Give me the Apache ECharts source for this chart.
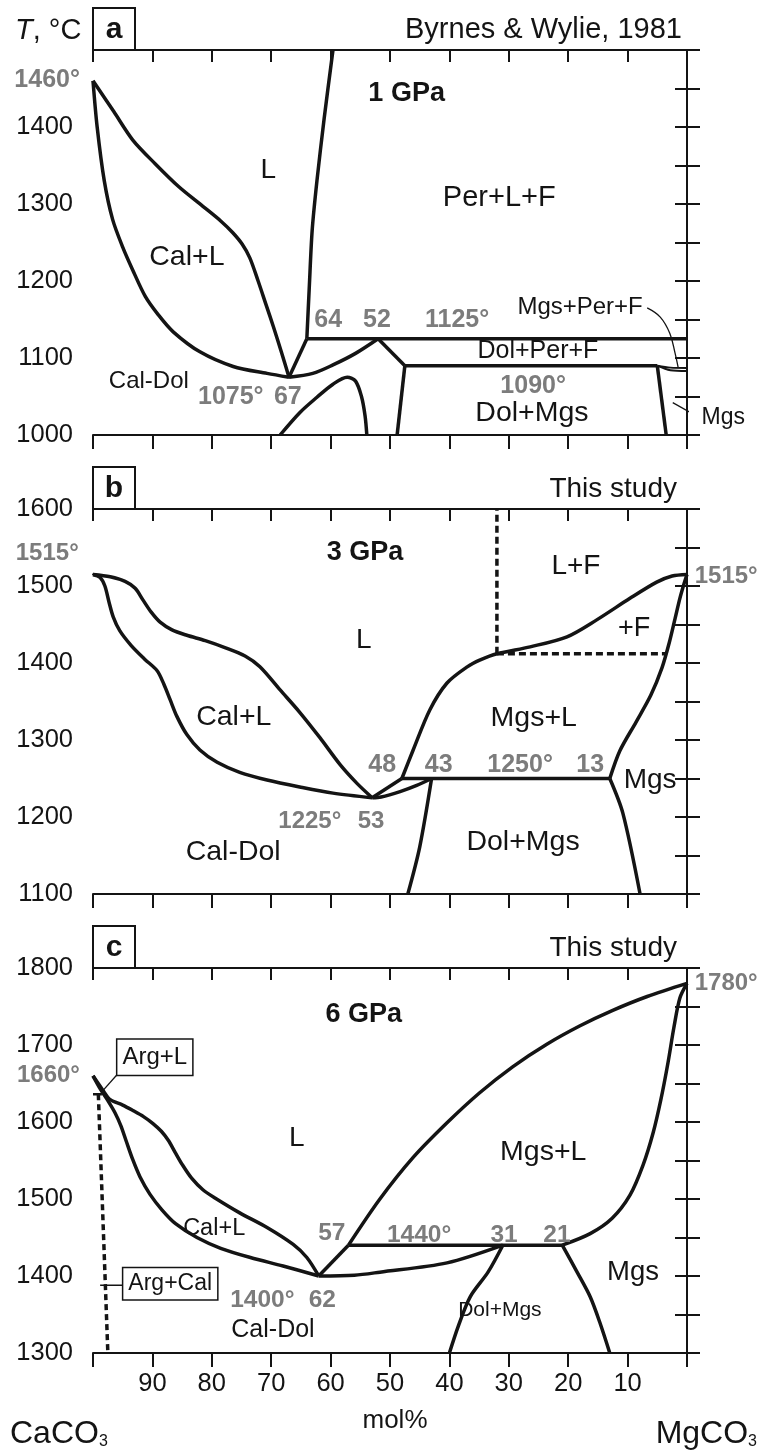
<!DOCTYPE html>
<html>
<head>
<meta charset="utf-8">
<script src="https://cdn.jsdelivr.net/npm/echarts@6/dist/echarts.min.js"></script>
<style>
  html, body { margin: 0; padding: 0; background: #fff; }
  #chart { width: 761px; height: 1456px; }
</style>
</head>
<body>
<div id="chart"></div>
<script>
// Composition axis: mol% CaCO3 (100 = CaCO3 at left, 0 = MgCO3 at right); T in °C.
const molTickLabels = [90, 80, 70, 60, 50, 40, 30, 20, 10];
const tRanges = [[1000, 1500], [1100, 1600], [1300, 1800]];

// ---------- (a) 1 GPa ----------
const aCalLiquidus = [[100,1460],[96.5,1420],[93.3,1383],[89.5,1352],[85.5,1322],[81.5,1297],[78.5,1278],[76.5,1263],[74.9,1248],[73.6,1230],[72.2,1200],[70.9,1170],[69.6,1140],[68.3,1108],[67,1075]];
const aCalSolidus = [[100,1460],[99.3,1400],[98.1,1330],[96.7,1280],[95,1244],[93.3,1214],[91.2,1180],[89,1156],[86.5,1134],[82,1108],[76.4,1089],[70.7,1080],[67,1075]];
const aEutToPeritectic = [[67,1075],[63,1080],[59.6,1091],[55.8,1106],[52,1125]];
const aPeritecticDown = [[52,1125],[47.5,1090]];
const aLiq64 = [[64,1125],[63.6,1190],[63.1,1266],[62.3,1330],[61.1,1410],[59.6,1500]];
const a64to67 = [[64,1125],[67,1075]];
const aIso1125 = [[64,1125],[0,1125]];
const aIso1090 = [[47.5,1090],[5,1090]];
const aDolSide = [[47.5,1090],[48.8,1000]];
const aMgsSide = [[5,1090],[3.5,1000]];
const aPerUpper = [[5,1090],[2.8,1087.5],[0,1087]];
const aPerLower = [[5,1090],[2.8,1084],[0,1083]];
const aCalDolDome = [[68.5,1000],[65.2,1029],[62.3,1049],[59.6,1066],[57.2,1075],[55.8,1070],[54.8,1050],[54.2,1025],[53.9,1000]];
const aLeaderMgsPerF = [[6.7,1165],[4.5,1153],[2.9,1132],[2,1106],[1.5,1088]];
const aLeaderMgs = [[2.4,1042],[-2.2,1022]];

// ---------- (b) 3 GPa ----------
const bCalLiquidus = [[100,1515],[97.1,1512],[94.6,1506],[92.9,1497],[91.6,1482],[90.2,1466],[88.7,1453],[86.7,1443],[84.2,1436],[81.1,1429],[77.8,1420],[74.4,1409],[71.9,1395],[68.5,1365],[65.2,1336],[61.8,1303],[58.4,1268],[55.6,1244],[53,1225]];
const bCalSolidus = [[100,1515],[98.8,1511],[98,1500],[97.3,1479],[96.6,1460],[95.5,1442],[93.6,1423],[91.3,1405],[89.2,1390],[88.1,1373],[87,1352],[85.9,1331],[84.2,1307],[82,1287],[79.1,1271],[75.3,1258],[70.7,1248],[65.2,1239],[59.6,1231],[53,1225]];
const bEutTo43 = [[53,1225],[51.5,1226],[48.3,1233],[45.5,1241],[43,1250]];
const bEutTo48 = [[53,1225],[48,1250]];
const bIso1250 = [[48,1250],[13,1250]];
const bMgsLiquidus = [[48,1250],[46.1,1287],[43.3,1339],[40.4,1374],[37,1395],[34.8,1404],[32,1412],[26.4,1421],[20.2,1434],[15.2,1456],[9.6,1484],[5.1,1505],[2.5,1513],[0,1515]];
const bMgsSolidus = [[13,1250],[11.3,1286],[8.6,1323],[6.1,1358],[4.2,1394],[3,1426],[2,1458],[1.2,1484],[0.5,1503],[0,1515]];
const bDolLeft = [[43,1250],[45,1161],[47,1100]];
const bDolRight = [[13,1250],[10.8,1205],[7.9,1100]];
const bFluidV = [[32,1412],[32,1600]];
const bFluidH = [[32,1412],[3.5,1412]];
const bLeader1515 = [[102.4,1540],[101.7,1527],[100.8,1518],[100,1515]];

// ---------- (c) 6 GPa ----------
const cMgsLiquidus = [[57,1440],[51.7,1500],[46.1,1554],[40.4,1599],[34.9,1638],[29.3,1672],[23.6,1701],[18,1725],[12.5,1745],[6.7,1763],[0,1780]];
const cMgsSolidus = [[21,1440],[16.3,1455],[12.6,1475],[9.6,1505],[7.4,1544],[5.7,1586],[4.4,1629],[3.2,1677],[2.2,1723],[1.2,1761],[0,1780]];
const cIso1440 = [[57,1440],[21,1440]];
const cCalLiquidus = [[100,1660],[98.4,1642],[97.1,1629],[95,1622],[93.3,1615],[91.5,1607],[89.9,1598],[88.5,1588],[87.3,1576],[86.2,1561],[85,1545],[83.4,1527],[81.5,1512],[79.4,1501],[75.3,1482],[70.7,1463],[66.3,1441],[64,1424],[62,1400]];
const cCalSolidus = [[100,1660],[98.7,1642],[97.6,1629],[96.3,1612],[95.3,1595],[94.4,1575],[93.3,1551],[92.1,1529],[90.4,1506],[88.4,1486],[86.1,1468],[82.5,1450],[78.5,1436],[73.5,1424],[68,1413],[62,1400]];
const cEutTo57 = [[62,1400],[57,1440]];
const cEutTo31 = [[62,1400],[56,1401],[51.7,1405],[40.4,1417],[31,1440]];
const cDolLeft = [[31,1440],[33.5,1405],[36.5,1373],[38.5,1335],[40,1300]];
const cDolRight = [[21,1440],[18.5,1405],[16.3,1373],[14.6,1338],[13,1300]];
const cArgCalTop = [[100,1636],[98.5,1636]];
const cArgCalDash = [[99.1,1636],[97.5,1300]];
const cLeaderArgL = [[96,1661],[98.3,1641]];
const cLeaderArgCal = [[98.8,1388],[95,1388]];

// Text annotations: [mol%, T, text, kind, font size]
const aLabels = [
  [47.2,1443,'1 GPa','gpa',27], [70.5,1344,'L','phase',28], [31.6,1308,'Per+L+F','phase',29],
  [84.2,1231,'Cal+L','phase',28.5], [90.6,1069,'Cal-Dol','phase',24],
  [76.8,1049,'1075°','num',25], [67.2,1049,'67','num',25], [60.4,1149,'64','num',25], [52.2,1149,'52','num',25],
  [38.7,1149,'1125°','num',25], [18,1166,'Mgs+Per+F','phase',24], [25.1,1109,'Dol+Per+F','phase',25],
  [25.9,1064,'1090°','num',25], [26.1,1029,'Dol+Mgs','phase',28.5], [-6.1,1022,'Mgs','phase',23],
  [102.2,1461,'1460°','numR',25]
];
const bLabels = [
  [54.2,1543,'3 GPa','gpa',27], [18.7,1525,'L+F','phase',28], [8.9,1445,'+F','phase',27], [54.4,1430,'L','phase',28],
  [76.3,1330,'Cal+L','phase',28.5], [25.8,1329,'Mgs+L','phase',28.5],
  [51.3,1267,'48','num',25], [41.8,1267,'43','num',25], [28.1,1267,'1250°','num',25], [16.3,1267,'13','num',25],
  [6.2,1248,'Mgs','phase',28], [63.5,1194,'1225°','num',24], [53.2,1194,'53','num',24],
  [27.6,1167,'Dol+Mgs','phase',28.5], [76.4,1154,'Cal-Dol','phase',28.5],
  [102.4,1543,'1515°','numR',24], [-1.3,1512,'1515°','numL',24]
];
const cLabels = [
  [54.4,1739,'6 GPa','gpa',27], [89.6,1684,'Arg+L','box',24], [102.2,1661,'1660°','numR',24],
  [65.7,1579,'L','phase',28], [24.2,1561,'Mgs+L','phase',28.5], [79.6,1462,'Cal+L','phase',23.5],
  [59.8,1456,'57','num',24.5], [45.1,1453,'1440°','num',24.5], [30.8,1453,'31','num',24.5], [21.9,1453,'21','num',24.5],
  [9.1,1405,'Mgs','phase',27.5], [31.5,1356,'Dol+Mgs','phase',21], [87,1390,'Arg+Cal','boxS',23],
  [71.5,1369,'1400°','num',24.5], [61.4,1369,'62','num',24.5], [69.7,1330,'Cal-Dol','phase',25],
  [-1.3,1780,'1780°','numL',24]
];

// ---------- layout ----------
const FONT = '"Liberation Sans", Arial, sans-serif';
const INK = '#141414';
const GREY = '#7c7c7c';
const GRID_LEFT = 93, GRID_W = 594, GRID_H = 385;
const gridTops = [50, 509, 968];
const LINE_W = 3.5;

const labelKinds = {
  phase: { color: INK },
  gpa:   { color: INK, fontWeight: 'bold' },
  num:   { color: GREY, fontWeight: 'bold' },
  numR:  { color: GREY, fontWeight: 'bold', align: 'right' },
  numL:  { color: GREY, fontWeight: 'bold', align: 'left' },
  box:   { color: INK, borderColor: INK, borderWidth: 1.5, padding: [6, 5, 5, 5], backgroundColor: '#fff' },
  boxS:  { color: INK, borderColor: INK, borderWidth: 1.5, padding: [4, 5, 4, 5], backgroundColor: '#fff' }
};

function curve(grid, data, opt) {
  opt = opt || {};
  return {
    type: 'line', xAxisIndex: grid * 2, yAxisIndex: grid * 2, data: data,
    symbol: 'none', smooth: opt.smooth === undefined ? 0.3 : opt.smooth,
    clip: false, silent: true, z: opt.z || 3,
    lineStyle: { color: INK, width: opt.width || LINE_W, type: opt.type || 'solid', cap: 'butt', join: 'round', opacity: 1 }
  };
}

function texts(grid, items) {
  return {
    type: 'scatter', xAxisIndex: grid * 2, yAxisIndex: grid * 2, symbolSize: 0,
    clip: false, silent: true, z: 10,
    itemStyle: { opacity: 1 },
    emphasis: { disabled: true },
    data: items.map(it => ({
      value: [it[0], it[1]],
      label: Object.assign({
        show: true, formatter: it[2], position: [0, 0], align: 'center', verticalAlign: 'middle',
        fontFamily: FONT, fontSize: it[4], opacity: 1
      }, labelKinds[it[3]])
    }))
  };
}

const grids = gridTops.map(t => ({ left: GRID_LEFT, top: t, width: GRID_W, height: GRID_H }));

const xAxes = [], yAxes = [];
gridTops.forEach((t, g) => {
  const last = g === 2;
  xAxes.push({
    type: 'value', gridIndex: g, position: 'bottom', min: 0, max: 100, interval: 10, inverse: true,
    axisLine: { lineStyle: { color: INK, width: 2 } },
    axisTick: { show: true, length: 14, lineStyle: { color: INK, width: 2 } },
    axisLabel: {
      show: last, margin: 18, fontSize: 25.5, color: INK, fontFamily: FONT,
      formatter: v => molTickLabels.indexOf(v) >= 0 ? String(v) : ''
    },
    splitLine: { show: false }
  });
  xAxes.push({
    type: 'value', gridIndex: g, position: 'top', min: 0, max: 100, interval: 10, inverse: true,
    axisLine: { lineStyle: { color: INK, width: 2 } },
    axisTick: { show: true, inside: true, length: 12, lineStyle: { color: INK, width: 2 } },
    axisLabel: { show: false }, splitLine: { show: false }
  });
  const [lo, hi] = tRanges[g];
  yAxes.push({
    type: 'value', gridIndex: g, position: 'left', min: lo, max: hi, interval: 50,
    axisLine: { lineStyle: { color: INK, width: 2 } },
    axisTick: { show: true, length: 12, lineStyle: { color: INK, width: 2 } },
    axisLabel: {
      margin: 20, fontSize: 25.5, color: INK, fontFamily: FONT, showMaxLabel: true, showMinLabel: true,
      formatter: v => (v % 100 === 0 && !(g === 0 && v === hi)) ? String(v) : ''
    },
    splitLine: { show: false }
  });
  yAxes.push({
    type: 'value', gridIndex: g, position: 'right', min: lo, max: hi, interval: 50,
    axisLine: { lineStyle: { color: INK, width: 2 } },
    axisTick: { show: true, length: 13, lineStyle: { color: INK, width: 2 } },
    axisLabel: { show: false }, splitLine: { show: false }
  });
});

const thin = { width: 1.3, smooth: 0.4, z: 4 };
const straight = { smooth: false };
const series = [
  // (a)
  curve(0, aCalLiquidus), curve(0, aCalSolidus), curve(0, aEutToPeritectic),
  curve(0, aPeritecticDown, straight), curve(0, aLiq64), curve(0, a64to67, straight),
  curve(0, aIso1125, straight), curve(0, aIso1090, straight),
  curve(0, aDolSide, straight), curve(0, aMgsSide, straight),
  curve(0, aPerUpper, { width: 2 }), curve(0, aPerLower, { width: 2 }),
  curve(0, aCalDolDome), curve(0, aLeaderMgsPerF, thin), curve(0, aLeaderMgs, { width: 1.3, smooth: false }),
  texts(0, aLabels),
  // (b)
  curve(1, bCalLiquidus), curve(1, bCalSolidus), curve(1, bEutTo43), curve(1, bEutTo48, straight),
  curve(1, bIso1250, straight), curve(1, bMgsLiquidus), curve(1, bMgsSolidus),
  curve(1, bDolLeft), curve(1, bDolRight),
  curve(1, bFluidV, { smooth: false, type: [7, 4] }), curve(1, bFluidH, { smooth: false, type: [7, 4] }),
  curve(1, bLeader1515, thin),
  texts(1, bLabels),
  // (c)
  curve(2, cMgsLiquidus), curve(2, cMgsSolidus), curve(2, cIso1440, straight),
  curve(2, cCalLiquidus), curve(2, cCalSolidus), curve(2, cEutTo57, straight),
  curve(2, cEutTo31), curve(2, cDolLeft), curve(2, cDolRight),
  curve(2, cArgCalTop, { smooth: false, width: 2.5 }), curve(2, cArgCalDash, { smooth: false, type: [6, 4] }),
  curve(2, cLeaderArgL, { width: 1.3, smooth: false }), curve(2, cLeaderArgCal, { width: 1.3, smooth: false }),
  texts(2, cLabels)
];

// Panel letters, sources and axis captions
const panelLetters = ['a', 'b', 'c'];
const sources = [['Byrnes & Wylie, 1981', 29, 682], ['This study', 28, 677], ['This study', 28, 677]];
const graphic = [];
gridTops.forEach((t, g) => {
  graphic.push({ type: 'rect', shape: { x: GRID_LEFT, y: t - 42, width: 42, height: 42 },
    style: { fill: '#fff', stroke: INK, lineWidth: 2 }, z: 20 });
  graphic.push({ type: 'text', x: GRID_LEFT + 21, y: t - 20, z: 21,
    style: { text: panelLetters[g], font: 'bold 30px ' + FONT, fill: INK, align: 'center', verticalAlign: 'middle' } });
  graphic.push({ type: 'text', x: sources[g][2], y: t - 20, z: 21,
    style: { text: sources[g][0], font: sources[g][1] + 'px ' + FONT, fill: INK, align: 'right', verticalAlign: 'middle' } });
});
graphic.push({ type: 'text', x: 15, y: 31, z: 21,
  style: { text: '{i|T}{n|, °C}', verticalAlign: 'middle', fill: INK,
    rich: { i: { font: 'italic 29px ' + FONT, fill: INK }, n: { font: '29px ' + FONT, fill: INK } } } });
const chemRich = {
  n: { font: '32px ' + FONT, fill: INK, verticalAlign: 'bottom', lineHeight: 36 },
  s: { font: '16px ' + FONT, fill: INK, verticalAlign: 'bottom', lineHeight: 28 }
};
graphic.push({ type: 'text', x: 10, y: 1432, z: 21,
  style: { text: '{n|CaCO}{s|3}', verticalAlign: 'middle', fill: INK, rich: chemRich } });
graphic.push({ type: 'text', x: 395, y: 1421, z: 21,
  style: { text: 'mol%', font: '26px ' + FONT, fill: INK, align: 'center', verticalAlign: 'middle' } });
graphic.push({ type: 'text', x: 757, y: 1432, z: 21,
  style: { text: '{n|MgCO}{s|3}', align: 'right', verticalAlign: 'middle', fill: INK, rich: chemRich } });

const chart = echarts.init(document.getElementById('chart'), null, { renderer: 'canvas' });
chart.setOption({
  backgroundColor: '#ffffff',
  animation: false,
  textStyle: { fontFamily: FONT },
  grid: grids,
  xAxis: xAxes,
  yAxis: yAxes,
  series: series,
  graphic: graphic
});
</script>
</body>
</html>
